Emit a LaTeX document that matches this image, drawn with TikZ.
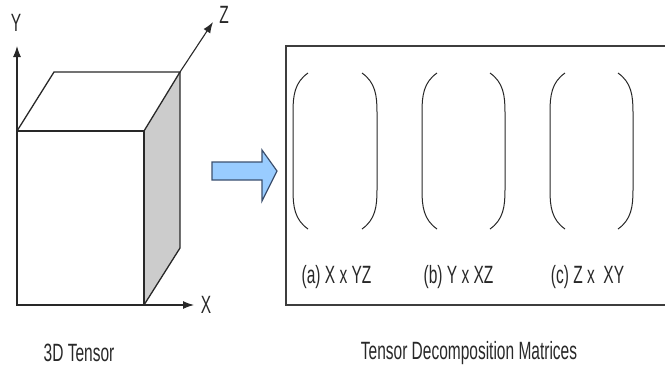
\documentclass[tikz,border=0pt]{standalone}
\usepackage{fontspec}
\setmainfont{Liberation Sans}[FakeStretch=0.62]
\usetikzlibrary{arrows.meta, positioning}
\definecolor{facegray}{RGB}{204,204,204}
\definecolor{arrowblue}{RGB}{153,204,255}
\definecolor{arrowedge}{RGB}{60,80,110}
\definecolor{inkgray}{RGB}{40,40,40}

\begin{document}
\begin{tikzpicture}[x=1pt, y=-1pt, font=\fontsize{25}{28}\selectfont, text=inkgray,
    edge/.style={line width=1.3pt, draw=inkgray},
    axis/.style={line width=1.1pt, draw=inkgray, -{Latex[length=11pt, width=8pt]}},
    paren/.style={line width=1pt, draw=inkgray},
    lbl/.style={inner sep=0pt}]
    \useasboundingbox (0,0) rectangle (665,368);

    % cube corners
    \coordinate (fbl) at (17,305);  \coordinate (fbr) at (144,305);
    \coordinate (ftl) at (17,131);  \coordinate (ftr) at (144,131);
    \coordinate (btl) at (54,72);   \coordinate (btr) at (180,72);
    \coordinate (bbr) at (180,248);

    \fill[facegray] (ftr) -- (btr) -- (bbr) -- (fbr) -- cycle;
    \draw[edge] (fbl) rectangle (ftr);
    \draw[edge] (ftl) -- (btl) -- (btr) -- (ftr);
    \draw[edge] (btr) -- (bbr) -- (fbr);

    % axes
    \coordinate (ytip) at (17,46);
    \coordinate (ztip) at (213,22);
    \coordinate (xtip) at (194,305);
    \draw[axis] (ftl) -- (ytip);
    \draw[axis] (btr) -- (ztip);
    \draw[axis] (fbr) -- (xtip);
    \node[lbl] (ylbl) at (16,23)  {Y};
    \node[lbl] (zlbl) at (224,15) {Z};
    \node[lbl] (xlbl) at (206,305) {X};

    \node[lbl] (tensor) at (79,353) {3D Tensor};

    % block arrow
    \draw[line width=1.2pt, draw=arrowedge, fill=arrowblue, line join=miter]
      (212,162) -- (262,162) -- (262,150) -- (277,171) -- (262,201)
      -- (262,180) -- (212,180) -- cycle;

    % frame of the matrices
    \draw[line width=2pt, draw=inkgray!90] (668,46) -- (286,46) -- (286,305) -- (668,305);

    % matrices
    \foreach \lx/\rx/\name in {293/377/a, 422/505/b, 550/633/c}{
      \draw[paren] (\lx+15,73) to[out=215, in=90] (\lx,112) -- (\lx,190)
        to[out=-90, in=145] (\lx+15,229);
      \draw[paren] (\rx-15,73) to[out=-35, in=90] (\rx,112) -- (\rx,190)
        to[out=-90, in=35] (\rx-15,229);
    }
    \node[lbl] (mata) at (336.5,277) {(a) X x YZ};
    \node[lbl] (matb) at (458.5,277) {(b) Y x XZ};
    \node[lbl] (matc) at (587.5,277) {(c) Z x\ \ XY};

    \node[lbl] (decomp) at (469,353) {Tensor Decomposition Matrices};
  \end{tikzpicture}
\end{document}
